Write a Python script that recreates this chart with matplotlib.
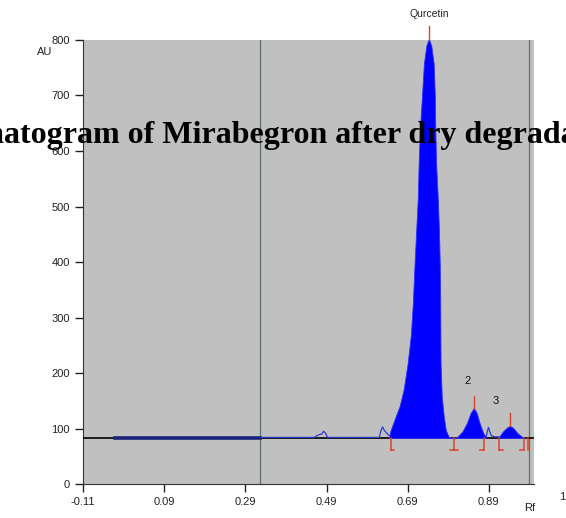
import numpy as np
import matplotlib
matplotlib.use('Agg')
import matplotlib.pyplot as plt

# densitogram trace (Rf, AU)
base_au = 83
flat_rf = [-0.03, 0.327]
noise_rf = [0.33, 0.46, 0.466, 0.472, 0.478, 0.483, 0.487, 0.490, 0.492, 0.62, 0.624, 0.628, 0.633, 0.638, 0.643]
noise_au = [84, 84, 87, 89, 90, 95, 92, 88, 84, 84, 96, 103, 96, 92, 88]

peak1_rf = [0.643, 0.648, 0.660, 0.670, 0.680, 0.690, 0.698, 0.703, 0.707, 0.711, 0.715, 0.717, 0.720, 0.725,
            0.730, 0.736, 0.742, 0.748, 0.754, 0.757, 0.758, 0.760, 0.764, 0.767, 0.769, 0.770, 0.771,
            0.774, 0.779, 0.784, 0.791, 0.804]
peak1_au = [83, 97, 121, 140, 170, 218, 270, 330, 398, 458, 517, 578, 638, 697,
            758, 790, 802, 790, 758, 697, 638, 578, 517, 458, 398, 337, 218,
            157, 121, 97, 85, 82]
peak2_rf = [0.804, 0.811, 0.825, 0.836, 0.845, 0.853, 0.860, 0.868, 0.876, 0.883]
peak2_au = [82, 84, 95, 110, 128, 137, 128, 108, 92, 84]
bump_rf = [0.883, 0.886, 0.889, 0.892, 0.896, 0.905, 0.915]
bump_au = [84, 94, 102, 95, 87, 85, 85]
peak3_rf = [0.915, 0.925, 0.935, 0.942, 0.950, 0.960, 0.970, 0.976]
peak3_au = [85, 95, 102, 105, 101, 92, 86, 83]

# integration marks
bracket_rf = [0.648, 0.804, 0.878, 0.915, 0.976, 0.986]
bracket_kind = ['[', 'I', ']', '[', ']', '|']
apex_rf = [0.742, 0.853, 0.942]
apex_au = [802, 137, 105]
apex_top = [825, 158, 128]
peak_names = ['Qurcetin', '2', '3']

xticks = [-0.11, 0.09, 0.29, 0.49, 0.69, 0.89]
yticks = [0, 100, 200, 300, 400, 500, 600, 700, 800]
vlines_rf = [0.327, 0.989]

red = '#d8452c'
fs = 8
plt.rcParams['font.family'] = ['Liberation Sans', 'DejaVu Sans']

fig = plt.figure(figsize=(5.66, 5.18), dpi=100)
ax = fig.add_axes([0.1466, 0.0656, 0.796, 0.8572])
ax.set_facecolor('#c0c0c0')
ax.set_xlim(-0.11, 1.0)
ax.set_ylim(0, 800)

for v in vlines_rf:
    ax.axvline(v, color='#5f6f6f', linewidth=0.9)

ax.axhline(base_au, color='black', linewidth=1.2, zorder=3)
ax.plot(flat_rf, [base_au, base_au], color='#1a237a', linewidth=2.6, zorder=4)
ax.plot(noise_rf, noise_au, color='#2a3ad0', linewidth=0.9, zorder=4)
ax.plot(bump_rf, bump_au, color='#2a3ad0', linewidth=0.9, zorder=4)

for rf, au in [(peak1_rf, peak1_au), (peak2_rf, peak2_au), (peak3_rf, peak3_au)]:
    ax.fill_between(rf, base_au, au, color='#0000ff', linewidth=0.6, edgecolor='#3030ff', zorder=5)

# red integration brackets
for rf, kind in zip(bracket_rf, bracket_kind):
    ax.plot([rf, rf], [base_au, 62], color=red, linewidth=1.1, zorder=6)
    if kind in ('[', 'I'):
        ax.plot([rf, rf + 0.009], [62, 62], color=red, linewidth=1.1, zorder=6)
    if kind in (']', 'I'):
        ax.plot([rf - 0.009, rf], [62, 62], color=red, linewidth=1.1, zorder=6)

for rf, lo, hi in zip(apex_rf, apex_au, apex_top):
    ax.plot([rf, rf], [lo, hi], color=red, linewidth=1.0, zorder=6, clip_on=False)
ax.text(apex_rf[0], 846, peak_names[0], fontsize=7.5, ha='center', va='center', color='#222222')
ax.text(0.838, 185, peak_names[1], fontsize=8, ha='center', va='center', color='#111111')
ax.text(0.908, 150, peak_names[2], fontsize=8, ha='center', va='center', color='#111111')

ax.set_xticks(xticks)
ax.set_xticklabels(['%.2f' % t for t in xticks])
ax.set_yticks(yticks)
ax.tick_params(axis='both', labelsize=fs, colors='#222222', direction='out', length=6, width=1)
ax.text(1.09, -14, '1.09', fontsize=fs, ha='center', va='top', color='#222222', clip_on=False)
for s in ['top', 'right']:
    ax.spines[s].set_visible(False)
ax.spines['left'].set_color('#333333')
ax.spines['bottom'].set_color('#333333')

fig.text(0.0795, 0.9, 'AU', fontsize=fs, ha='center', va='center', color='#222222')
fig.text(0.936, 0.019, 'Rf', fontsize=fs, ha='center', va='center', color='#222222')

fig.text(-0.165, 0.724, 'Chromatogram of Mirabegron after dry degradation', fontsize=23,
         fontweight='bold', family='Liberation Serif', ha='left', va='baseline', color='black')

fig.savefig('out.png', dpi=100)
